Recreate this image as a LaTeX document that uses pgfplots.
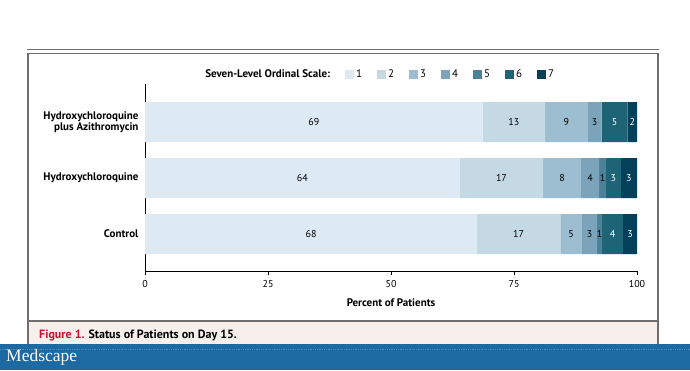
\documentclass[border=0pt]{standalone}
\usepackage{fontspec}
\setmainfont{PT Sans}
\newfontfamily\medfont{Liberation Serif}
\usepackage{pgfplots}
\pgfplotsset{compat=1.18}
\definecolor{c1}{HTML}{DDE9F3}
\definecolor{c2}{HTML}{C4D9E4}
\definecolor{c3}{HTML}{9DBDD0}
\definecolor{c4}{HTML}{7BA4BB}
\definecolor{c5}{HTML}{4D8199}
\definecolor{c6}{HTML}{1F6376}
\definecolor{c7}{HTML}{03405A}
\definecolor{framegray}{HTML}{6E6E6E}
\definecolor{capbg}{HTML}{F6EFEC}
\definecolor{nejmred}{HTML}{D2102E}
\definecolor{medblue}{HTML}{1D6AA3}
\definecolor{medline}{HTML}{4A8BBB}
\pgfplotsset{sq/.style={fill=#1,draw=none,legend image code/.code={\fill[#1] (0pt,-4.5pt) rectangle (9pt,4.5pt);}}}
\begin{document}
\begin{tikzpicture}[x=1pt,y=1pt]
\useasboundingbox (0,0) rectangle (690,370);
% Medscape band
\fill[medblue] (0,0) rectangle (690,26);
\draw[medline, densely dotted, line width=0.8pt] (0,21) -- (690,21);
\node[anchor=west, text=white, inner sep=0pt] at (6,13) {\medfont\fontsize{17.5}{18}\selectfont Medscape};
% caption band and frame
\fill[capbg] (28,26) rectangle (658,49);
\draw[framegray, line width=1.8pt] (28,26) -- (28,317) (658,26) -- (658,317);
\draw[framegray, line width=1.8pt] (27,316.5) -- (659,316.5);
\draw[framegray, line width=1pt] (27,320.5) -- (659,320.5);
\draw[framegray, line width=1.7pt] (28,49) -- (658,49);
\node[anchor=west, inner sep=0pt] at (39,35) {\fontsize{12}{14}\selectfont\bfseries\textcolor{nejmred}{Figure 1.} Status of Patients on Day 15.};
\begin{axis}[
  at={(145pt,99pt)}, anchor=south west, scale only axis,
  width=492pt, height=187pt,
  xbar stacked, bar width=40pt,
  xmin=0, xmax=100, ymin=-0.66, ymax=2.68,
  axis lines=left, axis line style={-, line width=1pt},
  xtick={0,25,50,75,100}, tick align=outside, major tick length=4pt,
  xtick style={line width=0.8pt, black},
  xticklabel shift=1.5pt,
  xticklabel style={font=\fontsize{10}{11}\selectfont},
  /pgf/number format/assume math mode=true,
  ytick={0,1,2},
  yticklabels={Control,Hydroxychloroquine,{Hydroxychloroquine\\plus Azithromycin}},
  ytick style={draw=none},
  yticklabel style={align=right, font=\fontsize{11}{11.5}\selectfont\bfseries, xshift=1pt},
  xlabel={Percent of Patients},
  xlabel style={at={(axis description cs:0.5,0)}, anchor=center, yshift=-32pt, font=\fontsize{11}{12}\selectfont\bfseries},
  legend columns=-1,
  legend style={draw=none, fill=none, at={(axis description cs:0.118,1.053)}, anchor=west,
    font=\fontsize{11}{12}\selectfont, inner sep=0pt,
    /tikz/every even column/.append style={column sep=13pt}},
  nodes near coords, point meta=explicit symbolic,
  every node near coord/.append style={anchor=center, font=\fontsize{10}{11}\selectfont, text=black},
]
\addlegendimage{empty legend}
\addlegendentry{\bfseries Seven-Level Ordinal Scale:}
\addplot[sq=c1] coordinates {(67.5,0)[68] (64.0,1)[64] (68.6,2)[69]};
\addlegendentry{1}
\addplot[sq=c2] coordinates {(16.9,0)[17] (16.9,1)[17] (12.7,2)[13]};
\addlegendentry{2}
\addplot[sq=c3] coordinates {(4.4,0)[5] (7.7,1)[8] (8.7,2)[9]};
\addlegendentry{3}
\addplot[sq=c4] coordinates {(3.1,0)[3] (3.7,1)[4] (2.8,2)[3]};
\addlegendentry{4}
\addplot[sq=c5] coordinates {(1.0,0)[1] (1.4,1)[1] (0,2)[]};
\addlegendentry{5}
\addplot[sq=c6, every node near coord/.append style={text=white}] coordinates {(4.3,0)[4] (3.0,1)[3] (5.3,2)[5]};
\addlegendentry{6}
\addplot[sq=c7, every node near coord/.append style={text=white}] coordinates {(2.8,0)[3] (3.3,1)[3] (1.9,2)[2]};
\addlegendentry{7}
\end{axis}
\end{tikzpicture}
\end{document}
